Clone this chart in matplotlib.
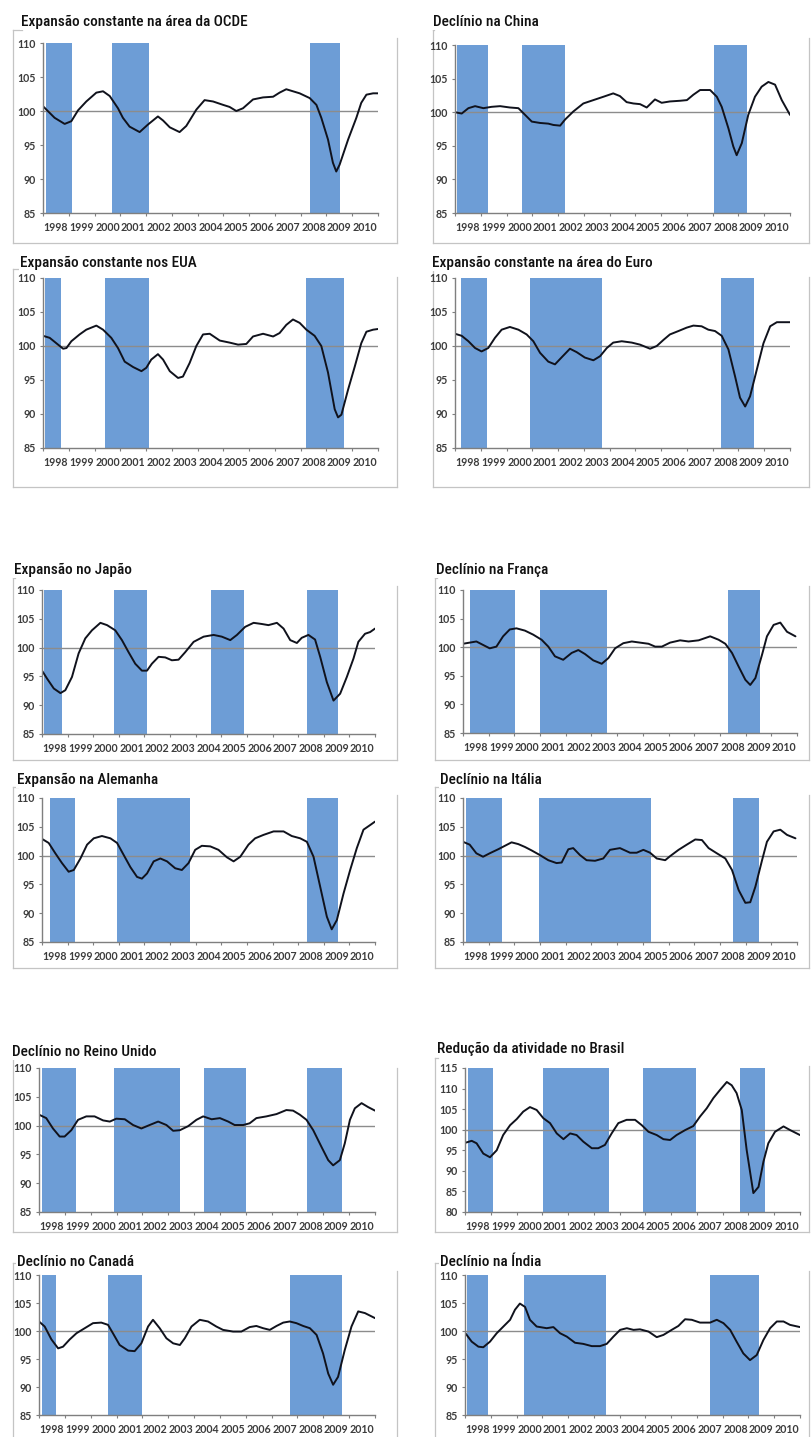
import os
import matplotlib
matplotlib.use("Agg")
import matplotlib.pyplot as plt
from matplotlib import font_manager as fm
from matplotlib.lines import Line2D

# ---------------------------------------------------------------- data
year_labels = [str(y) for y in range(1998, 2011)]

oecd_title = "Expansão constante na área da OCDE"
oecd_t = [1998.00, 1998.45, 1998.84, 1999.10, 1999.36, 1999.68, 2000.07, 2000.33, 2000.59, 2000.91,
          2001.10, 2001.36, 2001.75, 2002.07, 2002.46, 2002.66, 2002.92, 2003.30, 2003.56, 2003.95,
          2004.27, 2004.60, 2004.99, 2005.24, 2005.50, 2005.76, 2006.15, 2006.54, 2006.93, 2007.18,
          2007.44, 2007.96, 2008.35, 2008.61, 2008.80, 2009.06, 2009.25, 2009.38, 2009.51, 2009.84,
          2010.16, 2010.35, 2010.55, 2010.81, 2011.00]
oecd_v = [100.7, 99.0, 98.1, 98.5, 100.1, 101.4, 102.7, 102.9, 102.2, 100.4,
          99.0, 97.7, 96.9, 98.0, 99.2, 98.6, 97.6, 96.9, 97.8, 100.2,
          101.6, 101.4, 100.9, 100.6, 100.0, 100.4, 101.7, 102.0, 102.1, 102.7,
          103.2, 102.6, 101.9, 100.9, 99.0, 95.8, 92.4, 91.1, 92.1, 95.8,
          99.0, 101.2, 102.4, 102.6, 102.6]
oecd_rec = [(1998.13, 1999.14), (2000.68, 2002.10), (2008.35, 2009.54)]

china_title = "Declínio na China"
china_t = [1998.00, 1998.26, 1998.52, 1998.78, 1999.10, 1999.42, 1999.75, 2000.13, 2000.46, 2000.72,
           2000.98, 2001.30, 2001.62, 2001.82, 2002.08, 2002.27, 2002.59, 2002.98, 2003.37, 2003.76,
           2004.14, 2004.40, 2004.66, 2004.92, 2005.18, 2005.44, 2005.76, 2006.02, 2006.34, 2006.73,
           2007.00, 2007.25, 2007.51, 2007.90, 2008.16, 2008.35, 2008.61, 2008.80, 2008.93, 2009.13,
           2009.38, 2009.64, 2009.90, 2010.16, 2010.42, 2010.68, 2011.00]
china_v = [100.0, 99.8, 100.6, 100.9, 100.6, 100.8, 100.9, 100.7, 100.6, 99.6,
           98.6, 98.4, 98.3, 98.1, 98.0, 98.9, 100.1, 101.3, 101.8, 102.3,
           102.8, 102.4, 101.5, 101.3, 101.2, 100.7, 101.9, 101.4, 101.6, 101.7,
           101.8, 102.6, 103.3, 103.3, 102.3, 100.8, 97.6, 94.9, 93.6, 95.4,
           99.6, 102.3, 103.8, 104.5, 104.1, 101.8, 99.6]
china_rec = [(1998.09, 1999.29), (2000.61, 2002.27), (2008.06, 2009.32)]

usa_title = "Expansão constante nos EUA"
usa_t = [1998.00, 1998.26, 1998.52, 1998.78, 1998.91, 1999.10, 1999.42, 1999.68, 2000.07, 2000.33,
         2000.65, 2000.91, 2001.17, 2001.50, 2001.82, 2002.01, 2002.20, 2002.46, 2002.66, 2002.92,
         2003.24, 2003.43, 2003.69, 2003.95, 2004.21, 2004.47, 2004.86, 2005.24, 2005.57, 2005.89,
         2006.15, 2006.54, 2006.93, 2007.18, 2007.44, 2007.70, 2007.96, 2008.22, 2008.54, 2008.80,
         2009.06, 2009.32, 2009.45, 2009.58, 2009.84, 2010.10, 2010.35, 2010.55, 2010.81, 2011.00]
usa_v = [101.5, 101.2, 100.4, 99.6, 99.7, 100.7, 101.7, 102.4, 103.0, 102.4,
         101.2, 99.7, 97.7, 96.9, 96.3, 96.8, 98.0, 98.8, 98.0, 96.3,
         95.3, 95.5, 97.5, 100.0, 101.7, 101.8, 100.8, 100.5, 100.2, 100.3,
         101.4, 101.8, 101.4, 101.9, 103.1, 103.9, 103.4, 102.4, 101.5, 100.0,
         96.1, 90.7, 89.5, 89.9, 93.6, 97.0, 100.4, 102.1, 102.4, 102.5]
usa_rec = [(1998.06, 1998.71), (2000.42, 2002.10), (2008.22, 2009.67)]

euro_title = "Expansão constante na área do Euro"
euro_t = [1998.00, 1998.26, 1998.52, 1998.78, 1999.03, 1999.29, 1999.55, 1999.81, 2000.13, 2000.46,
          2000.78, 2001.04, 2001.30, 2001.62, 2001.88, 2002.13, 2002.46, 2002.72, 2003.04, 2003.37,
          2003.63, 2003.89, 2004.14, 2004.47, 2004.86, 2005.18, 2005.57, 2005.83, 2006.09, 2006.34,
          2006.67, 2006.99, 2007.25, 2007.57, 2007.83, 2008.09, 2008.35, 2008.61, 2008.87, 2009.06,
          2009.26, 2009.45, 2009.71, 2009.97, 2010.23, 2010.49, 2011.00]
euro_v = [101.8, 101.5, 100.7, 99.7, 99.2, 99.7, 101.2, 102.4, 102.8, 102.4,
          101.7, 100.7, 99.0, 97.7, 97.3, 98.3, 99.6, 99.1, 98.3, 97.9,
          98.5, 99.7, 100.5, 100.7, 100.5, 100.2, 99.6, 100.0, 100.9, 101.7,
          102.2, 102.7, 103.0, 102.9, 102.4, 102.2, 101.5, 99.5, 95.5, 92.4,
          91.1, 92.6, 96.5, 100.4, 102.9, 103.5, 103.5]
euro_rec = [(1998.23, 1999.23), (2000.91, 2003.69), (2008.32, 2009.60)]

japan_title = "Expansão no Japão"
japan_t = [1998.00, 1998.20, 1998.46, 1998.72, 1998.91, 1999.17, 1999.43, 1999.69, 1999.95, 2000.28,
           2000.54, 2000.86, 2001.12, 2001.38, 2001.64, 2001.90, 2002.10, 2002.29, 2002.55, 2002.81,
           2003.07, 2003.33, 2003.59, 2003.92, 2004.31, 2004.70, 2005.02, 2005.35, 2005.61, 2005.93,
           2006.26, 2006.58, 2006.84, 2007.17, 2007.43, 2007.69, 2007.95, 2008.14, 2008.40, 2008.66,
           2008.86, 2009.12, 2009.38, 2009.64, 2009.90, 2010.16, 2010.35, 2010.61, 2010.81, 2011.00]
japan_v = [96.0, 94.6, 92.9, 92.1, 92.6, 94.9, 99.0, 101.6, 103.0, 104.3,
           103.9, 103.0, 101.3, 99.2, 97.2, 96.0, 96.0, 97.2, 98.4, 98.3,
           97.8, 97.9, 99.2, 101.0, 101.9, 102.2, 101.9, 101.3, 102.2, 103.6,
           104.3, 104.1, 103.9, 104.3, 103.3, 101.3, 100.8, 101.7, 102.2, 101.4,
           98.4, 94.0, 90.8, 92.0, 94.9, 98.1, 101.0, 102.4, 102.7, 103.3]
japan_rec = [(1998.07, 1998.78), (2000.83, 2002.10), (2004.59, 2005.90), (2008.34, 2009.57)]

france_title = "Declínio na França"
france_t = [1998.00, 1998.26, 1998.52, 1998.78, 1999.04, 1999.30, 1999.56, 1999.82, 2000.08, 2000.41,
            2000.73, 2001.06, 2001.32, 2001.58, 2001.90, 2002.23, 2002.49, 2002.75, 2003.07, 2003.40,
            2003.66, 2003.92, 2004.24, 2004.57, 2004.89, 2005.22, 2005.48, 2005.74, 2006.06, 2006.45,
            2006.78, 2007.17, 2007.62, 2007.95, 2008.21, 2008.47, 2008.73, 2008.99, 2009.18, 2009.38,
            2009.64, 2009.83, 2010.09, 2010.35, 2010.61, 2010.94]
france_v = [100.6, 100.8, 101.0, 100.4, 99.8, 100.1, 101.9, 103.1, 103.3, 102.9,
            102.2, 101.3, 100.1, 98.4, 97.8, 99.0, 99.5, 98.8, 97.7, 97.1,
            98.1, 99.8, 100.7, 101.0, 100.8, 100.6, 100.1, 100.1, 100.8, 101.2,
            101.0, 101.2, 101.9, 101.3, 100.6, 99.0, 96.6, 94.3, 93.4, 94.6,
            98.7, 101.9, 103.9, 104.3, 102.7, 101.9]
france_rec = [(1998.29, 2000.04), (2000.99, 2003.59), (2008.30, 2009.55)]

germany_title = "Expansão na Alemanha"
germany_t = [1998.00, 1998.26, 1998.52, 1998.78, 1999.04, 1999.24, 1999.50, 1999.76, 2000.02, 2000.34,
             2000.67, 2000.93, 2001.19, 2001.45, 2001.71, 2001.90, 2002.10, 2002.36, 2002.62, 2002.88,
             2003.20, 2003.46, 2003.72, 2003.98, 2004.24, 2004.57, 2004.89, 2005.22, 2005.48, 2005.74,
             2006.06, 2006.32, 2006.65, 2007.04, 2007.43, 2007.75, 2008.08, 2008.34, 2008.60, 2008.86,
             2009.12, 2009.31, 2009.51, 2009.77, 2010.03, 2010.29, 2010.55, 2010.81, 2011.00]
germany_v = [102.9, 102.2, 100.4, 98.7, 97.2, 97.5, 99.5, 101.9, 103.0, 103.4,
             103.0, 102.2, 100.1, 98.0, 96.3, 96.0, 96.9, 99.0, 99.5, 99.0,
             97.8, 97.5, 98.7, 101.0, 101.7, 101.6, 101.0, 99.7, 99.0, 99.8,
             101.9, 103.0, 103.6, 104.2, 104.2, 103.4, 103.0, 102.4, 99.8, 94.6,
             89.4, 87.2, 88.8, 93.4, 97.5, 101.3, 104.5, 105.3, 105.9]
germany_rec = [(1998.30, 1999.30), (2000.93, 2003.79), (2008.36, 2009.57)]

italy_title = "Declínio na Itália"
italy_t = [1998.00, 1998.26, 1998.52, 1998.78, 1999.04, 1999.37, 1999.63, 1999.89, 2000.15, 2000.41,
           2000.67, 2000.99, 2001.32, 2001.64, 2001.84, 2002.10, 2002.29, 2002.55, 2002.81, 2003.14,
           2003.46, 2003.72, 2004.11, 2004.50, 2004.76, 2005.02, 2005.28, 2005.54, 2005.87, 2006.06,
           2006.39, 2006.71, 2007.04, 2007.30, 2007.56, 2007.88, 2008.21, 2008.47, 2008.73, 2008.99,
           2009.18, 2009.38, 2009.64, 2009.83, 2010.09, 2010.35, 2010.61, 2010.94]
italy_v = [102.4, 101.9, 100.4, 99.8, 100.4, 101.1, 101.7, 102.3, 102.0, 101.5,
           100.9, 100.1, 99.2, 98.7, 98.8, 101.1, 101.3, 100.1, 99.2, 99.1,
           99.5, 101.0, 101.3, 100.5, 100.5, 101.0, 100.5, 99.5, 99.2, 99.9,
           101.0, 101.9, 102.8, 102.7, 101.3, 100.4, 99.5, 97.5, 94.0, 91.8,
           91.9, 94.6, 99.2, 102.4, 104.2, 104.5, 103.6, 103.0]
italy_rec = [(1998.13, 1999.53), (2000.96, 2005.31), (2008.49, 2009.53)]

uk_title = "Declínio no Reino Unido"
uk_t = [1998.00, 1998.28, 1998.54, 1998.80, 1998.99, 1999.25, 1999.51, 1999.83, 2000.15, 2000.48,
        2000.74, 2000.99, 2001.32, 2001.64, 2001.96, 2002.28, 2002.61, 2002.93, 2003.19, 2003.45,
        2003.77, 2004.09, 2004.35, 2004.68, 2005.00, 2005.32, 2005.57, 2005.90, 2006.15, 2006.41,
        2006.80, 2007.19, 2007.57, 2007.83, 2008.09, 2008.35, 2008.61, 2008.93, 2009.19, 2009.38,
        2009.64, 2009.83, 2010.03, 2010.22, 2010.48, 2010.74, 2011.00]
uk_v = [101.9, 101.3, 99.5, 98.1, 98.1, 99.2, 101.0, 101.6, 101.6, 100.9,
        100.7, 101.2, 101.1, 100.1, 99.5, 100.1, 100.7, 100.1, 99.1, 99.2,
        99.9, 101.0, 101.6, 101.1, 101.3, 100.7, 100.1, 100.1, 100.4, 101.3,
        101.6, 102.0, 102.7, 102.6, 101.9, 101.0, 99.2, 96.3, 94.0, 93.1,
        94.0, 96.9, 101.0, 103.0, 103.9, 103.2, 102.6]
uk_rec = [(1998.13, 1999.45), (2000.90, 2003.45), (2004.39, 2006.00), (2008.35, 2009.74)]

brazil_title = "Redução da atividade no Brasil"
brazil_t = [1998.00, 1998.26, 1998.45, 1998.71, 1998.97, 1999.23, 1999.48, 1999.75, 2000.01, 2000.26,
            2000.52, 2000.78, 2001.04, 2001.30, 2001.56, 2001.82, 2002.08, 2002.33, 2002.59, 2002.92,
            2003.17, 2003.43, 2003.69, 2003.95, 2004.27, 2004.60, 2004.86, 2005.12, 2005.44, 2005.70,
            2005.96, 2006.21, 2006.54, 2006.86, 2007.12, 2007.38, 2007.64, 2007.90, 2008.16, 2008.35,
            2008.54, 2008.74, 2008.93, 2009.19, 2009.39, 2009.58, 2009.77, 2010.03, 2010.36, 2010.62,
            2011.00]
brazil_v = [96.8, 97.3, 96.7, 94.2, 93.3, 95.0, 98.7, 101.1, 102.6, 104.4,
            105.5, 104.8, 102.8, 101.6, 99.1, 97.7, 99.1, 98.7, 97.1, 95.5,
            95.5, 96.3, 99.1, 101.6, 102.4, 102.4, 101.1, 99.5, 98.7, 97.7,
            97.5, 98.7, 99.9, 100.9, 103.2, 105.2, 107.7, 109.7, 111.6, 110.8,
            108.9, 104.8, 95.1, 84.6, 86.1, 92.2, 96.7, 99.5, 100.8, 99.9,
            98.7]
brazil_rec = [(1998.13, 1999.07), (2001.04, 2003.60), (2004.90, 2006.97), (2008.67, 2009.64)]

canada_title = "Declínio no Canadá"
canada_t = [1998.00, 1998.22, 1998.48, 1998.74, 1998.93, 1999.19, 1999.45, 1999.77, 2000.09, 2000.41,
            2000.67, 2000.86, 2001.12, 2001.45, 2001.70, 2001.96, 2002.22, 2002.41, 2002.67, 2002.93,
            2003.19, 2003.45, 2003.64, 2003.90, 2004.22, 2004.54, 2004.86, 2005.12, 2005.51, 2005.83,
            2006.15, 2006.41, 2006.67, 2006.93, 2007.19, 2007.45, 2007.70, 2007.96, 2008.22, 2008.48,
            2008.74, 2008.99, 2009.19, 2009.38, 2009.57, 2009.83, 2010.09, 2010.35, 2010.61, 2011.00]
canada_v = [101.7, 100.8, 98.5, 96.9, 97.2, 98.5, 99.6, 100.5, 101.4, 101.5,
            101.1, 99.6, 97.5, 96.5, 96.4, 97.8, 100.8, 102.0, 100.5, 98.7,
            97.8, 97.5, 98.7, 100.8, 102.0, 101.7, 100.8, 100.2, 99.9, 99.9,
            100.7, 100.9, 100.5, 100.2, 100.9, 101.5, 101.7, 101.4, 100.9, 100.5,
            99.3, 96.0, 92.4, 90.4, 91.8, 96.6, 100.8, 103.5, 103.2, 102.3]
canada_rec = [(1998.13, 1998.67), (2000.67, 2001.99), (2007.70, 2009.73)]

india_title = "Declínio na Índia"
india_t = [1998.00, 1998.26, 1998.52, 1998.71, 1998.97, 1999.23, 1999.49, 1999.75, 1999.94, 2000.13,
           2000.33, 2000.52, 2000.78, 2001.17, 2001.43, 2001.69, 2001.95, 2002.27, 2002.59, 2002.92,
           2003.24, 2003.50, 2003.76, 2004.02, 2004.28, 2004.54, 2004.79, 2005.12, 2005.44, 2005.70,
           2006.02, 2006.28, 2006.54, 2006.80, 2007.12, 2007.51, 2007.77, 2008.03, 2008.29, 2008.54,
           2008.80, 2009.06, 2009.32, 2009.58, 2009.84, 2010.10, 2010.36, 2010.61, 2011.00]
india_v = [99.7, 98.1, 97.2, 97.1, 98.1, 99.6, 100.8, 102.0, 103.8, 104.9,
           104.3, 102.0, 100.8, 100.5, 100.7, 99.6, 99.0, 97.9, 97.7, 97.3,
           97.3, 97.7, 99.0, 100.2, 100.5, 100.2, 100.3, 99.9, 98.9, 99.3,
           100.2, 100.9, 102.1, 102.0, 101.5, 101.5, 102.0, 101.4, 100.2, 98.1,
           96.0, 94.8, 95.7, 98.4, 100.5, 101.7, 101.7, 101.1, 100.7]
india_rec = [(1998.06, 1998.91), (2000.30, 2003.46), (2007.51, 2009.41)]

# ---------------------------------------------------------------- layout (pixels)
W, H = 811, 1437
# axes box (left, top, right, bottom), title anchor (x, y), frame (left, top, right, bottom)
panels = [
    (oecd_title, oecd_t, oecd_v, oecd_rec, (85, 110), (43, 43, 378, 213), (21, 22), (13, 30, 397, 243)),
    (china_title, china_t, china_v, china_rec, (85, 110), (455, 45, 790, 213), (433, 22), (433, 30, 809, 243)),
    (usa_title, usa_t, usa_v, usa_rec, (85, 110), (43, 278, 378, 448), (20, 263), (13, 269, 397, 487)),
    (euro_title, euro_t, euro_v, euro_rec, (85, 110), (455, 278, 790, 448), (432, 263), (433, 269, 809, 487)),
    (japan_title, japan_t, japan_v, japan_rec, (85, 110), (42, 590, 375, 734), (14, 570), (13, 578, 397, 760)),
    (france_title, france_t, france_v, france_rec, (85, 110), (463, 590, 797, 733), (436, 570), (435, 578, 809, 760)),
    (germany_title, germany_t, germany_v, germany_rec, (85, 110), (42, 798, 375, 942), (17, 780), (13, 787, 397, 968)),
    (italy_title, italy_t, italy_v, italy_rec, (85, 110), (463, 798, 797, 942), (440, 780), (435, 787, 809, 968)),
    (uk_title, uk_t, uk_v, uk_rec, (85, 110), (39, 1068, 375, 1212), (12, 1052), (13, 1060, 397, 1232)),
    (brazil_title, brazil_t, brazil_v, brazil_rec, (80, 115), (465, 1068, 800, 1212), (437, 1049), (435, 1058, 809, 1232)),
    (canada_title, canada_t, canada_v, canada_rec, (85, 110), (39, 1275, 375, 1415), (17, 1262), (13, 1263, 397, 1440)),
    (india_title, india_t, india_v, india_rec, (85, 110), (465, 1275, 800, 1415), (440, 1262), (435, 1263, 809, 1440)),
]

BAR = "#6d9dd6"
LINE = "#10121c"
REF = "#8c8c8c"
AXIS = "#7f7f7f"
TICK_TXT = "#3c3c3c"
FRAME = "#c4c4c4"
TICK_FONT = ["Lato", "DejaVu Sans"]
TICK_SIZE = 7.7
TITLE_WIDTH_PX = 226  # width of the longest heading


def condensed_font():
    """Pick the narrowest sans face available for the headings."""
    files = sorted({f.fname for f in fm.fontManager.ttflist})
    prefs = ["NotoSans-ExtraCondensedMedium", "NotoSans-ExtraCondensedSemiBold",
             "NotoSans-ExtraCondensed.", "OpenSans-CondensedSemiBold", "OpenSans_Condensed-SemiBold",
             "RobotoCondensed-Medium", "NotoSans-CondensedMedium", "NotoSans-CondensedSemiBold",
             "RobotoCondensed-Regular", "NotoSans-Condensed.", "DejaVuSansCondensed.",
             "LiberationSansNarrow-Regular"]
    for p in prefs:
        for f in files:
            if os.path.basename(f).startswith(p):
                return fm.FontProperties(fname=f)
    for f in files:
        b = os.path.basename(f)
        if ("Condensed" in b or "Narrow" in b) and "Italic" not in b and "Light" not in b \
                and "Thin" not in b:
            return fm.FontProperties(fname=f)
    return fm.FontProperties(family="Liberation Sans")


title_font = condensed_font()

fig = plt.figure(figsize=(W / 100, H / 100), dpi=100)
fig.patch.set_facecolor("white")
renderer = fig.canvas.get_renderer()

# size the headings so the longest one spans its measured width
probe = fig.text(0, 0, oecd_title, fontproperties=title_font, fontsize=12)
probe_w = probe.get_window_extent(renderer).width
probe.remove()
title_size = min(12 * TITLE_WIDTH_PX / probe_w, 13.5)


def fx(x):
    return x / W


def fy(y):
    return 1 - y / H


for title, t, v, rec, ylim, box, tpos, frame in panels:
    L, T, R, B = box
    ax = fig.add_axes([fx(L), fy(B), (R - L) / W, (B - T) / H])
    ax.set_xlim(1998, 2011)
    ax.set_ylim(*ylim)

    for start, end in rec:
        ax.axvspan(start, end, color=BAR, lw=0, zorder=1)
    ax.axhline(100, color=REF, lw=1.0, zorder=2)
    ax.plot(t, v, color=LINE, lw=1.4, zorder=3, solid_joinstyle="round", solid_capstyle="round")

    for side in ("top", "right"):
        ax.spines[side].set_visible(False)
    for side in ("left", "bottom"):
        ax.spines[side].set_color(AXIS)
        ax.spines[side].set_linewidth(1.0)
        ax.spines[side].set_zorder(4)

    ax.set_yticks(list(range(ylim[0], ylim[1] + 1, 5)))
    ax.tick_params(axis="y", direction="out", length=2.5, width=0.8, color=AXIS,
                   labelsize=TICK_SIZE, labelcolor=TICK_TXT, pad=2.5)
    ax.set_xticks(list(range(1998, 2012)))
    ax.set_xticklabels([])
    ax.set_xticks([y + 0.5 for y in range(1998, 2011)], minor=True)
    ax.set_xticklabels(year_labels, minor=True)
    ax.tick_params(axis="x", which="major", direction="out", length=2.5, width=0.8, color=AXIS)
    ax.tick_params(axis="x", which="minor", length=0, labelsize=TICK_SIZE, labelcolor=TICK_TXT, pad=6.5)
    for lab in ax.get_xticklabels(minor=True) + ax.get_yticklabels():
        lab.set_fontfamily(TICK_FONT)
        lab.set_fontweight("bold")
    ax.set_facecolor("none")

    # light frame around each chart
    fl, ft, fr, fb = frame
    seg = [
        ((fl, fl), (ft, fb)),
        ((fl, fr), (fb, fb)),
        ((fr, fr), (ft + 8, fb)),
        ((fl, tpos[0] + 1), (ft, ft)),
    ]
    for xs, ys in seg:
        fig.add_artist(Line2D([fx(x) for x in xs], [fy(y) for y in ys],
                              transform=fig.transFigure, color=FRAME, lw=0.9, zorder=0))

    fig.text(fx(tpos[0]), fy(tpos[1]), title, ha="left", va="center",
             fontproperties=title_font, fontsize=title_size, color="#111111", zorder=5,
             bbox=dict(facecolor="white", edgecolor="none", pad=0.5))

fig.savefig("out.png", dpi=100, facecolor="white")
